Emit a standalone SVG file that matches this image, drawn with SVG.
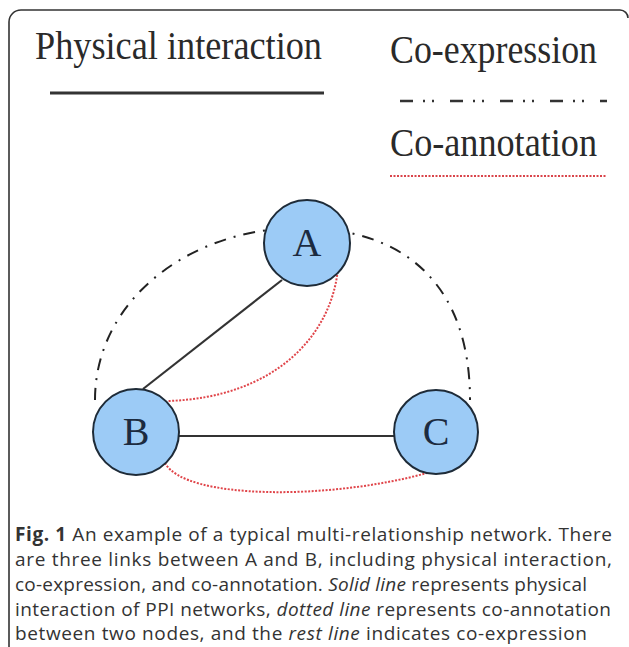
<svg xmlns="http://www.w3.org/2000/svg" width="629" height="647" viewBox="0 0 629 647">
<style>
.leg{font-family:"Liberation Serif","Times New Roman",serif;font-size:39px;fill:#2a2a2a}
.lab{font-family:"Liberation Serif","Times New Roman",serif;font-size:40px;fill:#1c2b40;text-anchor:middle}
.node{fill:#9ccbf6;stroke:#1e2b38;stroke-width:2}
.solid{fill:none;stroke:#333;stroke-width:2.2}
.red{fill:none;stroke:#e0454a;stroke-width:2;stroke-dasharray:2 1.5}
.dd{fill:none;stroke:#222;stroke-width:2}
.cap{font-family:"Open Sans","DejaVu Sans",sans-serif;font-size:19px;fill:#333}
</style>
<rect width="629" height="647" fill="#fff"/>
<path d="M9 647 V22 A12 12 0 0 1 21 10 H620 A8 8 0 0 1 628 18" fill="none" stroke="#333" stroke-width="1.6"/>
<g id="legend">
<text class="leg" x="35" y="59" textLength="287" lengthAdjust="spacingAndGlyphs">Physical interaction</text>
<line x1="50" y1="93" x2="324" y2="93" stroke="#333" stroke-width="3"/>
<text class="leg" x="390" y="63" textLength="207" lengthAdjust="spacingAndGlyphs">Co-expression</text>
<line x1="400" y1="101" x2="607" y2="101" stroke="#333" stroke-width="2.5" stroke-dasharray="13 10 2 7 2 16"/>
<text class="leg" x="390" y="156" textLength="207" lengthAdjust="spacingAndGlyphs">Co-annotation</text>
<line x1="390" y1="176" x2="607" y2="176" stroke="#d9444a" stroke-width="2" stroke-dasharray="2 1.5"/>
</g>
<g id="connectors">
<path class="dd" d="M95 400 C95 300 190 228 300 228 C410 228 470 290 470 400" stroke-dasharray="12 8 2 8"/>
<line class="solid" x1="282" y1="280" x2="143" y2="389" stroke-width="1.8"/>
<line class="solid" x1="179" y1="436" x2="394" y2="436" stroke-width="2.5"/>
<path class="red" d="M338 268 C332 335 275 398 167 401"/>
<path class="red" d="M165 463 C185 500 330 500 427 473"/>
</g>
<g id="node-A">
<circle class="node" cx="307" cy="243" r="43"/>
<text class="lab" x="307" y="256">A</text>
</g>
<g id="node-B">
<circle class="node" cx="136" cy="432" r="43"/>
<text class="lab" x="136" y="445">B</text>
</g>
<g id="node-C">
<circle class="node" cx="436" cy="432" r="42"/>
<text class="lab" x="436" y="445">C</text>
</g>
<g id="caption">
<text class="cap" x="15" y="541" textLength="597" lengthAdjust="spacing"><tspan font-weight="bold">Fig. 1</tspan> An example of a typical multi-relationship network. There</text>
<text class="cap" x="15" y="566" textLength="597" lengthAdjust="spacing">are three links between A and B, including physical interaction,</text>
<text class="cap" x="15" y="591" textLength="572" lengthAdjust="spacing">co-expression, and co-annotation. <tspan font-style="italic">Solid line</tspan> represents physical</text>
<text class="cap" x="15" y="616" textLength="596" lengthAdjust="spacing">interaction of PPI networks, <tspan font-style="italic">dotted line</tspan> represents co-annotation</text>
<text class="cap" x="15" y="640" textLength="572" lengthAdjust="spacing">between two nodes, and the <tspan font-style="italic">rest line</tspan> indicates co-expression</text>
</g>
</svg>
